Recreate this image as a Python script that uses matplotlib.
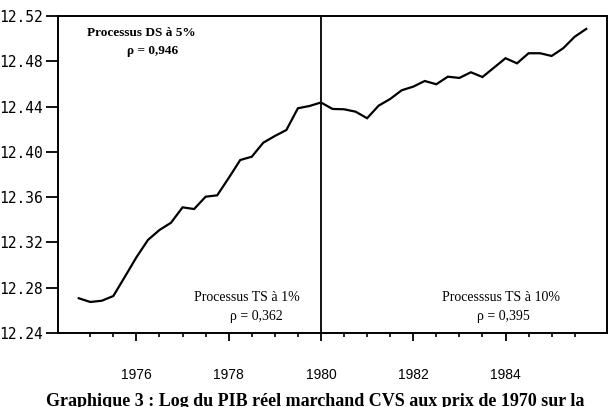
import numpy as np
import matplotlib
matplotlib.use("Agg")
import matplotlib.pyplot as plt
from matplotlib.ticker import FixedLocator, FormatStrFormatter

# Quarterly data 1974Q4 .. 1985Q4 (log of real market GDP, SA, 1970 prices)
start_year, start_quarter = 1974, 4
log_pib = [
    12.2707,                                  # 1974Q4
    12.2674, 12.2685, 12.2727, 12.2897,       # 1975
    12.3069, 12.3222, 12.3310, 12.3374,       # 1976
    12.3510, 12.3495, 12.3604, 12.3616,       # 1977
    12.3769, 12.3928, 12.3957, 12.4081,       # 1978
    12.4140, 12.4193, 12.4385, 12.4405,       # 1979
    12.4436, 12.4379, 12.4376, 12.4355,       # 1980
    12.4297, 12.4408, 12.4467, 12.4544,       # 1981
    12.4576, 12.4626, 12.4597, 12.4664,       # 1982
    12.4653, 12.4703, 12.4661, 12.4744,       # 1983
    12.4827, 12.4782, 12.4871, 12.4871,       # 1984
    12.4847, 12.4915, 12.5017, 12.5086,       # 1985
]
break_year = 1980
y_ticks = [12.24, 12.28, 12.32, 12.36, 12.40, 12.44, 12.48, 12.52]
x_major = [1976, 1978, 1980, 1982, 1984]
x_minor = [1975, 1975.5, 1976.5, 1977, 1977.5, 1978.5, 1979, 1979.5,
           1980.5, 1981, 1981.5, 1982.5, 1983, 1983.5, 1984.5, 1985, 1985.5]

ann_ds = ("Processus DS à 5%", "ρ = 0,946")
ann_ts1 = ("Processus TS à 1%", "ρ = 0,362")
ann_ts10 = ("Processsus TS à 10%", "ρ = 0,395")
caption = "Graphique 3 : Log du PIB réel marchand CVS aux prix de 1970 sur la"

t = np.array([start_year + (start_quarter - 1) / 4 + i / 4 for i in range(len(log_pib))])

fig = plt.figure(figsize=(6.12, 4.07), dpi=100)
ax = fig.add_axes([58 / 612, (407 - 333) / 407, (607 - 58) / 612, (333 - 16) / 407])

ax.plot(t, log_pib, color="black", lw=1.6, solid_joinstyle="miter")
ax.axvline(break_year, color="black", lw=1.3)

ax.set_xlim(1974.3, 1986.2)
ax.set_ylim(12.24, 12.52)

for s in ax.spines.values():
    s.set_linewidth(1.4)

ax.yaxis.set_major_locator(FixedLocator(y_ticks))
ax.yaxis.set_major_formatter(FormatStrFormatter("%.2f"))
ax.xaxis.set_major_locator(FixedLocator(x_major))
ax.xaxis.set_minor_locator(FixedLocator(x_minor))
ax.set_xticklabels([str(y) for y in x_major])

ax.tick_params(axis="y", direction="out", length=9, width=1.3, pad=1.5,
               labelsize=10.5, right=False)
ax.tick_params(axis="x", which="major", direction="out", length=6, width=1.3,
               pad=19, labelsize=10)
ax.tick_params(axis="x", which="minor", direction="out", length=3, width=1.2)
for lab in ax.get_yticklabels():
    lab.set_fontfamily("DejaVu Sans Mono")
for lab in ax.get_xticklabels():
    lab.set_fontfamily("Liberation Sans")

serif = "Liberation Serif"
ax.text(1976.1, 12.505, ann_ds[0], ha="center", va="center", fontsize=9.5,
        family=serif, fontweight="bold")
ax.text(1976.35, 12.489, ann_ds[1], ha="center", va="center", fontsize=9.5,
        family=serif, fontweight="bold")
ax.text(1978.4, 12.271, ann_ts1[0], ha="center", va="center", fontsize=10, family=serif)
ax.text(1978.6, 12.255, ann_ts1[1], ha="center", va="center", fontsize=10, family=serif)
ax.text(1983.9, 12.271, ann_ts10[0], ha="center", va="center", fontsize=10, family=serif)
ax.text(1983.95, 12.255, ann_ts10[1], ha="center", va="center", fontsize=10, family=serif)

fig.text(315 / 612, 1.5 / 407, caption, ha="center", va="baseline", fontsize=13,
         family=serif, fontweight="bold")

fig.savefig("out.png", dpi=100)
